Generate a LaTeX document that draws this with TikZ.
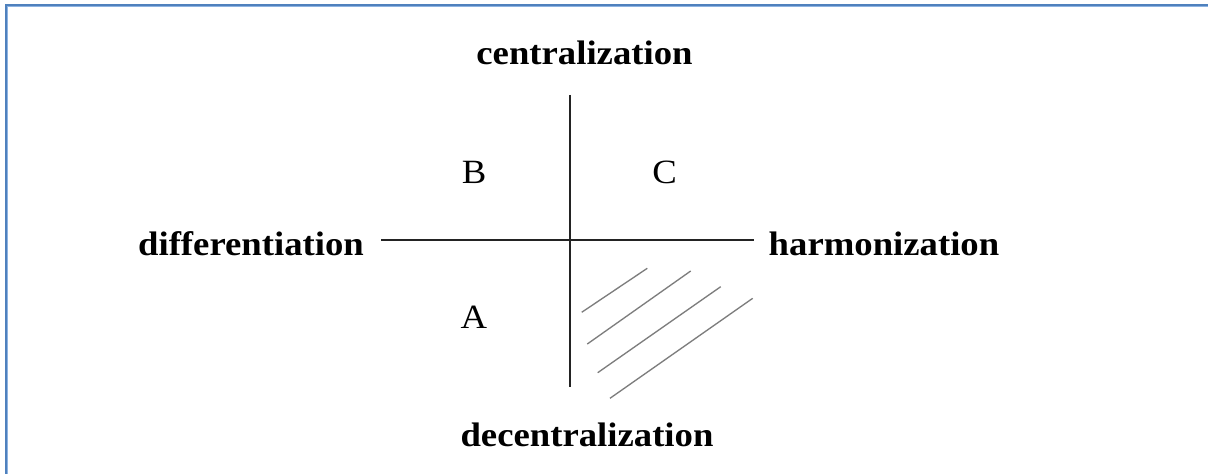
\documentclass[tikz,border=0pt]{standalone}
\usepackage{fontspec}
\newfontfamily\labfont[FakeStretch=1.08]{Liberation Serif}
\definecolor{framebluelight}{RGB}{141,179,226}
\definecolor{frameblue}{RGB}{79,129,189}
\definecolor{axisgray}{RGB}{35,35,35}
\definecolor{hatchgray}{RGB}{125,125,125}
\begin{document}
\begin{tikzpicture}[x=0.75pt,y=-0.75pt,
  axislabel/.style={font=\labfont\fontsize{25.5pt}{30pt}\selectfont\bfseries,anchor=base,inner sep=0pt},
  quadlabel/.style={font=\labfont\fontsize{25.5pt}{30pt}\selectfont,anchor=base,inner sep=0pt},
  axisline/.style={draw=axisgray,line width=1.9pt},
  hatchline/.style={draw=hatchgray,line width=1pt}]
\useasboundingbox (0,0) rectangle (1208,474);
\fill[white] (0,0) rectangle (1208,474);
% frame (top and left edges visible)
\coordinate (fbl) at (6.2,480);
\coordinate (ftl) at (6.2,5.2);
\coordinate (ftr) at (1215,5.2);
\draw[framebluelight,line width=2.4pt] (fbl) -- (ftl) -- (ftr);
\draw[frameblue,line width=1.1pt] (fbl) -- (ftl) -- (ftr);
% axes
\coordinate (vtop) at (570,95);
\coordinate (vbot) at (570,387);
\coordinate (hleft) at (381,240);
\coordinate (hright) at (754,240);
\draw[axisline] (vtop) -- (vbot);
\draw[axisline] (hleft) -- (hright);
% hatch
\coordinate (h1a) at (581.7,312.3); \coordinate (h1b) at (647.3,268.3);
\coordinate (h2a) at (587.3,344);   \coordinate (h2b) at (690.7,271);
\coordinate (h3a) at (597.7,372.7); \coordinate (h3b) at (720.7,286.7);
\coordinate (h4a) at (610,398.3);   \coordinate (h4b) at (752.7,298.3);
\draw[hatchline] (h1a) -- (h1b);
\draw[hatchline] (h2a) -- (h2b);
\draw[hatchline] (h3a) -- (h3b);
\draw[hatchline] (h4a) -- (h4b);
% labels
\node[axislabel] (cen) at (584.5,65) {centralization};
\node[axislabel] (dec) at (587,446) {decentralization};
\node[axislabel] (dif) at (251,256) {differentiation};
\node[axislabel] (har) at (884,256) {harmonization};
\node[quadlabel] (B) at (474,184) {B};
\node[quadlabel] (C) at (664.5,184) {C};
\node[quadlabel] (A) at (474,329) {A};
\end{tikzpicture}
\end{document}
